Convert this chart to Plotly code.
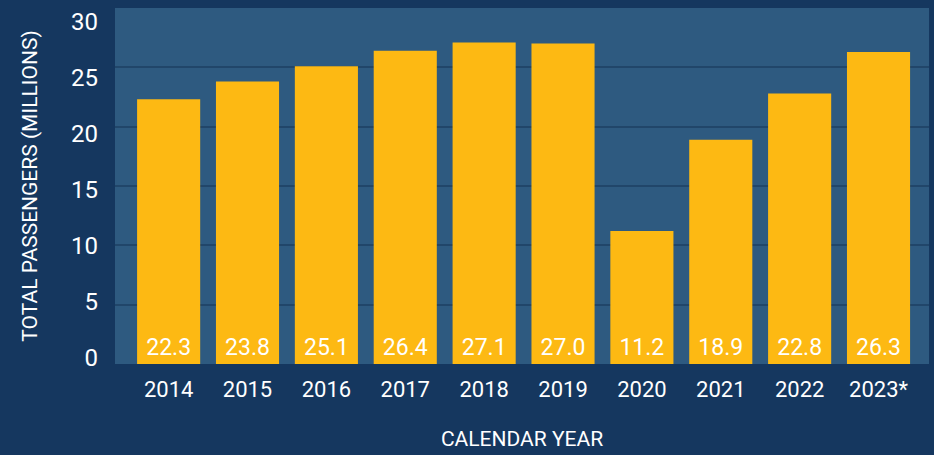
import plotly.graph_objects as go

years = ["2014", "2015", "2016", "2017", "2018", "2019", "2020", "2021", "2022", "2023*"]
passengers = [22.3, 23.8, 25.1, 26.4, 27.1, 27.0, 11.2, 18.9, 22.8, 26.3]
y_ticks = [0, 5, 10, 15, 20, 25, 30]

FONT = "Roboto"

fig = go.Figure()
fig.add_trace(go.Bar(
    x=list(range(len(years))),
    y=passengers,
    width=0.8,
    marker=dict(color="#fdb913", line=dict(width=0)),
    text=[f"{v:.1f}" for v in passengers],
    textposition="inside",
    insidetextanchor="start",
    textangle=0,
    textfont=dict(color="white", size=23, family=FONT),
    hoverinfo="skip",
))
# invisible helper trace so the tick-label axis is drawn
fig.add_trace(go.Scatter(x=[None], y=[None], yaxis="y2", showlegend=False, hoverinfo="skip"))

fig.update_layout(
    width=934, height=455,
    margin=dict(l=115, r=5, t=8, b=91),
    paper_bgcolor="#15375f",
    plot_bgcolor="#2e5a80",
    showlegend=False,
    font=dict(family=FONT, color="white"),
    xaxis=dict(
        tickmode="array",
        tickvals=list(range(len(years))),
        ticktext=years,
        range=[-0.68, 9.64],
        showgrid=False, zeroline=False,
        tickfont=dict(size=22, color="white", family=FONT),
        ticks="", ticklabelstandoff=10,
        title=dict(text="CALENDAR YEAR", font=dict(size=21, color="white", family=FONT), standoff=30),
    ),
    yaxis=dict(
        range=[0, 30],
        tickvals=y_ticks,
        showgrid=True, gridcolor="#21466a", gridwidth=2,
        zeroline=False,
        showticklabels=False,
        title=dict(text="TOTAL PASSENGERS (MILLIONS)", font=dict(size=21, color="white", family=FONT), standoff=70),
    ),
    yaxis2=dict(
        overlaying="y", side="left",
        range=[-0.536, 31.25],
        tickvals=y_ticks,
        showgrid=False, zeroline=False,
        tickfont=dict(size=24, color="white", family=FONT),
        ticks="", ticklabelstandoff=16,
    ),
    uniformtext=dict(minsize=23, mode="show"),
)

post = "document.body.style.margin = '0';"

fig.write_html("out.html", post_script=post, config={"displayModeBar": False})
